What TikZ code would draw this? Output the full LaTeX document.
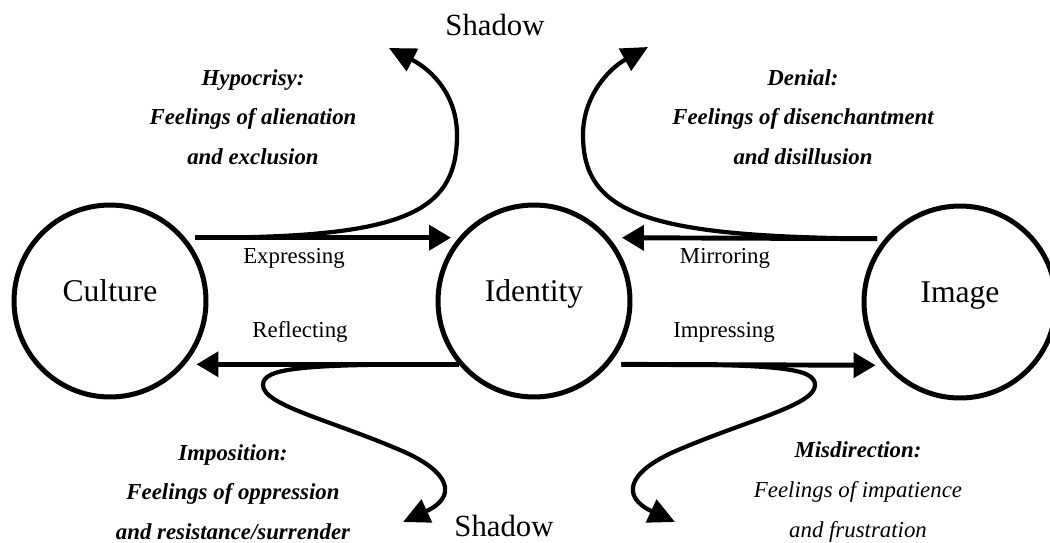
\documentclass[tikz,border=0pt]{standalone}
\usepackage{fontspec}
\setmainfont{Liberation Serif}
\usetikzlibrary{arrows.meta, positioning}

\begin{document}
\begin{tikzpicture}[x=0.02cm, y=0.02cm,
  stage/.style={draw, circle, line width=2.85pt, minimum size=3.84cm, inner sep=0pt,
    text height=12pt, text depth=11pt, font=\fontsize{18}{21}\selectfont},
  flow/.style={line width=2.8pt, -{Triangle[length=12.5pt, width=14pt]}},
  shade/.style={line width=2.4pt, -{Triangle[length=15pt, width=14pt]}},
  verb/.style={font=\fontsize{13}{15}\selectfont},
  note/.style={align=center, font=\fontsize{13}{22.6}\selectfont\bfseries\itshape},
  shadowlbl/.style={font=\fontsize{17.5}{20}\selectfont}]
\useasboundingbox (0,0) rectangle (1050,-542);

% stages
\node[stage] (culture) at (110,-301) {Culture};
\node[stage] (identity) at (534,-301) {Identity};
\node[stage] (image) at (960,-302) {Image};

% shadow targets
\coordinate (tlEnd) at (389,-48);
\coordinate (trEnd) at (648,-47);
\coordinate (blEnd) at (403,-522);
\coordinate (brEnd) at (675,-522);

% main flows
\draw[flow, shorten <=0.2cm, shorten >=0.15cm] (culture.40) -- (identity.140);
\draw[flow, shorten <=0.15cm, shorten >=0.25cm] (image.140) -- (identity.40);
\draw[flow, shorten >=0.22cm] (identity.220) -- (culture.320);
\draw[flow, shorten <=0.24cm, shorten >=0.18cm] (identity.320) -- (image.220);

% shadow curves
\draw[shade, shorten <=0.2cm] (culture.40) .. controls (400,-238) and (457,-215) .. (457,-135)
  .. controls (457,-95) and (432,-70) .. (tlEnd);
\draw[shade, shorten <=0.15cm] (image.140) .. controls (650,-237) and (583,-215) .. (583,-135)
  .. controls (583,-95) and (610,-68) .. (trEnd);
\draw[shade] (identity.220) .. controls (300,-364) and (263,-368) .. (263,-385)
  .. controls (263,-405) and (330,-420) .. (400,-450)
  .. controls (452,-472) and (457,-497) .. (blEnd);
\draw[shade, shorten <=0.24cm] (identity.320) .. controls (780,-364) and (815,-368) .. (815,-385)
  .. controls (815,-405) and (748,-420) .. (678,-450)
  .. controls (626,-472) and (621,-497) .. (brEnd);

% labels
\node[verb] (expressing) at (294,-258) {Expressing};
\node[verb] (mirroring) at (725,-258) {Mirroring};
\node[verb] (reflecting) at (300,-332) {Reflecting};
\node[verb] (impressing) at (724,-332) {Impressing};
\node[shadowlbl] (shadowtop) at (495,-24.5) {Shadow};
\node[shadowlbl] (shadowbot) at (504,-525.5) {Shadow};

\node[note] (hypocrisy) at (253,-117) {Hypocrisy:\\Feelings of alienation\\and exclusion};
\node[note] (denial) at (803,-117) {Denial:\\Feelings of disenchantment\\and disillusion};
\node[note] (imposition) at (233,-492) {Imposition:\\Feelings of oppression\\and resistance/surrender};
\node[note] (misdirection) at (858,-492) {Misdirection:\\\mdseries Feelings of impatience\\\mdseries and frustration};
\end{tikzpicture}
\end{document}
